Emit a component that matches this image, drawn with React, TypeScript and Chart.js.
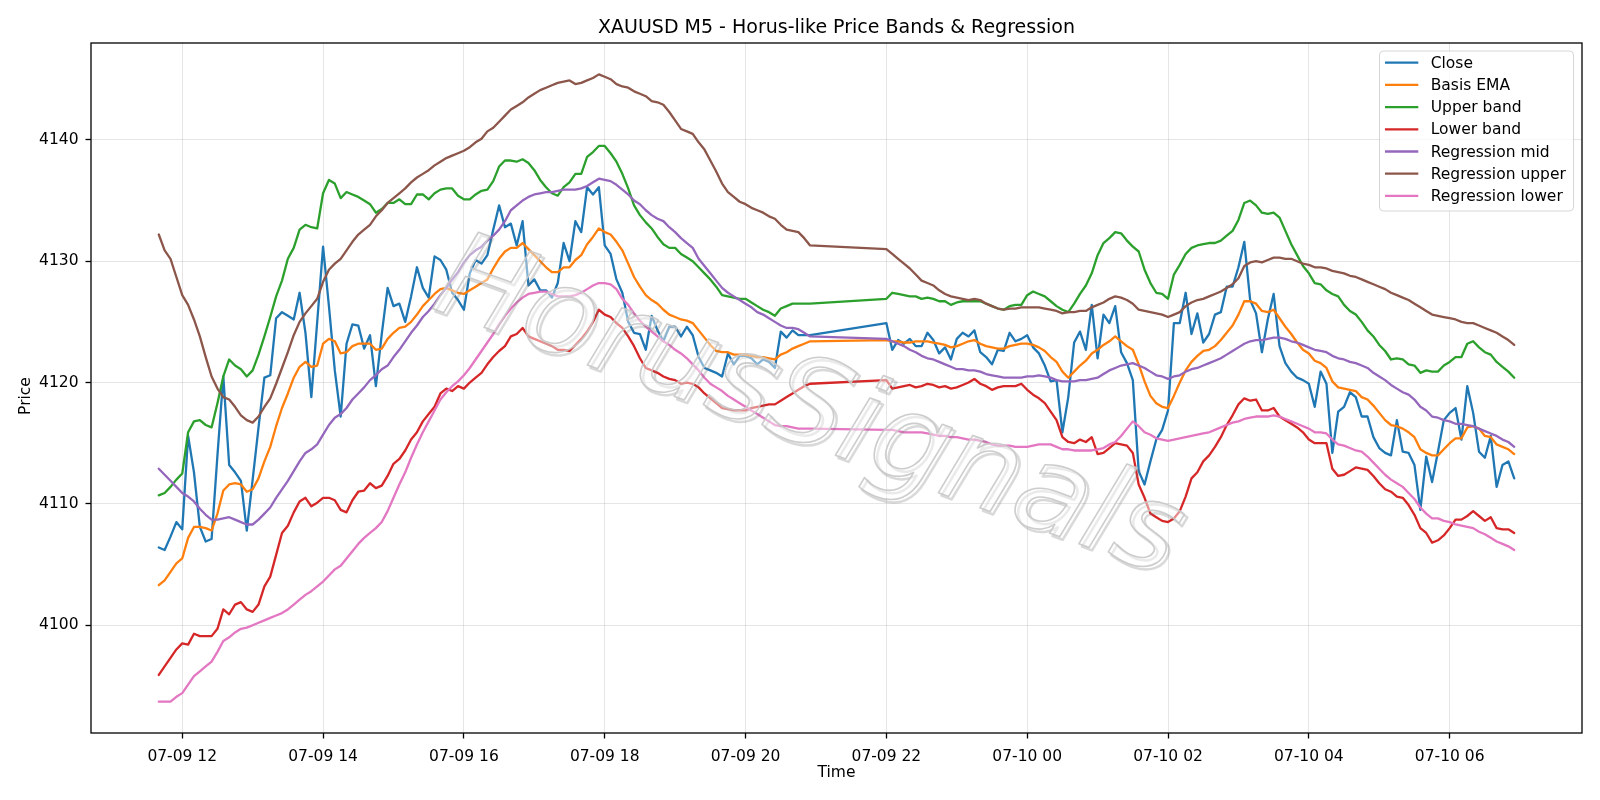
import React, { useEffect, useRef } from "react";
import { Chart, registerables } from "chart.js";

Chart.register(...registerables);

// ---- time axis (5-minute bars, two sessions) ----
const SEG1_START_HOUR = 11 + 40 / 60; // 07-09 11:40
const SEG1_COUNT = 112;
const SEG2_START_HOUR = 22; // 07-09 22:00
const SEG2_COUNT = 108;
const STEP_HOURS = 5 / 60;

const X_TICK_HOURS = [12, 14, 16, 18, 20, 22, 24, 26, 28, 30];
const X_TICK_LABELS = ["07-09 12", "07-09 14", "07-09 16", "07-09 18", "07-09 20", "07-09 22", "07-10 00", "07-10 02", "07-10 04", "07-10 06"];
const Y_TICKS = [4100, 4110, 4120, 4130, 4140];

const TITLE = "XAUUSD M5 - Horus-like Price Bands & Regression";
const X_TITLE = "Time";
const Y_TITLE = "Price";
const WATERMARK = "HorusSignals";

// ---- series ----
const CLOSE = [
  4106.4, 4106.2, 4107.3, 4108.5, 4107.9, 4115.6, 4112.6, 4108.1, 4106.9, 4107.1,
  4114.0, 4120.5, 4113.2, 4112.6, 4111.9, 4107.8, 4112.0, 4116.3, 4120.4, 4120.6,
  4125.3, 4125.8, 4125.5, 4125.2, 4127.4, 4124.1, 4118.8, 4125.0, 4131.2, 4126.3,
  4121.0, 4117.2, 4123.2, 4124.8, 4124.7, 4122.8, 4123.9, 4119.7, 4124.0, 4127.8,
  4126.3, 4126.5, 4125.0, 4127.1, 4129.5, 4127.8, 4127.0, 4130.4, 4130.1, 4129.3,
  4127.4, 4126.8, 4126.0, 4129.0, 4130.1, 4129.8, 4130.5, 4132.6, 4134.6, 4132.8,
  4133.1, 4131.3, 4133.3, 4128.0, 4128.5, 4127.6, 4127.6, 4127.0, 4128.2, 4131.5,
  4130.0, 4133.3, 4132.4, 4136.1, 4135.5, 4136.1, 4131.3, 4130.6, 4128.5, 4127.4,
  4125.0, 4124.1, 4124.0, 4122.7, 4125.5, 4124.3, 4123.4, 4124.6, 4124.6, 4123.8,
  4124.6, 4123.9, 4122.1, 4121.2, 4121.0, 4120.8, 4120.5, 4122.4, 4121.5, 4122.2,
  4122.2, 4122.0, 4121.5, 4121.9, 4121.7, 4121.2, 4124.2, 4123.7, 4124.3, 4123.9,
  4123.9, 4123.9,
  4124.9, 4122.7, 4123.5, 4123.2, 4123.6, 4123.0, 4123.0, 4124.1, 4123.5, 4122.4,
  4122.9, 4121.9, 4123.6, 4124.1, 4123.8, 4124.3, 4122.5, 4122.1, 4121.5, 4122.7,
  4122.6, 4124.1, 4123.4, 4123.6, 4123.9, 4122.9, 4122.4, 4121.4, 4120.1, 4120.2,
  4115.9, 4118.8, 4123.3, 4124.2, 4122.7, 4126.4, 4122.0, 4125.6, 4124.9, 4126.3,
  4122.5, 4121.6, 4120.2, 4112.7, 4111.6, 4113.5, 4115.3, 4116.1, 4117.7, 4124.9,
  4124.9, 4127.4, 4124.0, 4125.7, 4123.3, 4124.0, 4125.6, 4125.8, 4127.9, 4127.9,
  4129.5, 4131.6, 4126.8, 4125.7, 4122.5, 4125.2, 4127.3, 4123.0, 4121.6, 4120.9,
  4120.4, 4120.2, 4119.9, 4118.0, 4120.9, 4119.9, 4114.2, 4117.6, 4118.0, 4119.2,
  4118.8, 4117.2, 4117.2, 4115.5, 4114.6, 4114.2, 4114.0, 4116.9, 4114.3, 4114.2,
  4113.2, 4109.5, 4113.9, 4111.8, 4114.3, 4116.9, 4117.5, 4117.9, 4115.3, 4119.7,
  4117.5, 4114.3, 4113.8, 4115.6, 4111.4, 4113.2, 4113.5, 4112.1,
];

const BASIS_EMA = [
  4103.3, 4103.7, 4104.4, 4105.1, 4105.5, 4107.2, 4108.1, 4108.1, 4108.0, 4107.8,
  4109.2, 4111.1, 4111.6, 4111.7, 4111.6, 4111.0, 4111.2, 4112.1, 4113.5, 4114.7,
  4116.4, 4117.9, 4119.1, 4120.4, 4121.3, 4121.7, 4121.3, 4121.4, 4123.2, 4123.6,
  4123.4, 4122.4, 4122.5, 4123.0, 4123.2, 4123.2, 4123.2, 4122.7, 4122.8, 4123.6,
  4124.1, 4124.5, 4124.6, 4125.0, 4125.6, 4126.3, 4126.8, 4127.3, 4127.7, 4127.8,
  4127.6, 4127.4, 4127.3, 4127.6, 4127.9, 4128.2, 4128.5, 4129.4, 4130.2, 4130.8,
  4131.1, 4131.1, 4131.5, 4131.0, 4130.5, 4130.0, 4129.5, 4129.1, 4129.1, 4129.5,
  4129.5, 4130.1, 4130.5, 4131.4, 4132.0, 4132.7, 4132.4, 4132.2, 4131.6, 4130.9,
  4129.8, 4128.7, 4127.9, 4127.2, 4126.8, 4126.5, 4126.0, 4125.6, 4125.4, 4125.2,
  4125.1, 4124.9, 4124.3, 4123.7, 4123.1, 4122.6, 4122.5, 4122.5, 4122.3, 4122.3,
  4122.3, 4122.2, 4122.1, 4122.1, 4122.0, 4121.9, 4122.3, 4122.5, 4122.8, 4123.0,
  4123.2, 4123.4,
  4123.5, 4123.4, 4123.4, 4123.3, 4123.3, 4123.4, 4123.4, 4123.4, 4123.3, 4123.2,
  4123.1, 4122.9, 4123.0, 4123.2, 4123.4, 4123.5, 4123.2, 4123.0, 4122.9, 4122.8,
  4122.8, 4123.0, 4123.1, 4123.2, 4123.2, 4123.1, 4122.9, 4122.6, 4122.1, 4121.7,
  4120.9, 4120.4, 4120.9, 4121.4, 4121.8, 4122.4, 4122.7, 4123.1, 4123.4, 4123.8,
  4123.4, 4123.0, 4122.7, 4121.5, 4120.1, 4118.9, 4118.3, 4118.0, 4117.9, 4118.9,
  4120.0, 4121.0, 4121.7, 4122.2, 4122.6, 4122.7, 4123.0, 4123.5, 4124.1, 4124.7,
  4125.6, 4126.7, 4126.7, 4126.5, 4125.9, 4125.8, 4126.0, 4125.3, 4124.6, 4124.0,
  4123.3, 4122.7, 4122.4, 4121.8, 4121.6, 4121.2, 4120.1, 4119.6, 4119.5, 4119.4,
  4119.3, 4118.8, 4118.6, 4118.1, 4117.5, 4116.9, 4116.5, 4116.4, 4116.2, 4115.9,
  4115.5, 4114.5, 4114.2, 4114.0, 4114.0, 4114.5, 4115.0, 4115.4, 4115.4, 4116.3,
  4116.4, 4116.2, 4115.6, 4115.5, 4114.9, 4114.7, 4114.5, 4114.1,
];

const UPPER_BAND = [
  4110.7, 4110.9, 4111.4, 4112.0, 4112.5, 4115.9, 4116.8, 4116.9, 4116.5, 4116.3,
  4118.3, 4120.5, 4121.9, 4121.4, 4121.1, 4120.5, 4121.0, 4122.3, 4123.8, 4125.4,
  4127.1, 4128.4, 4130.2, 4131.1, 4132.6, 4133.0, 4132.8, 4132.7, 4135.6, 4136.7,
  4136.4, 4135.2, 4135.7, 4135.5, 4135.3, 4135.0, 4134.7, 4134.0, 4134.3, 4134.8,
  4134.8, 4135.1, 4134.7, 4134.7, 4135.5, 4135.5, 4135.1, 4135.6, 4135.9, 4136.0,
  4136.0, 4135.4, 4135.1, 4135.1, 4135.5, 4135.8, 4135.9, 4136.6, 4137.8, 4138.3,
  4138.3, 4138.2, 4138.4, 4138.1, 4137.5, 4136.7, 4136.1, 4135.6, 4135.4, 4136.1,
  4136.5, 4137.2, 4137.2, 4138.6, 4139.0, 4139.5, 4139.5, 4138.9, 4138.2, 4137.2,
  4136.0, 4134.6, 4133.8, 4133.2, 4132.7, 4132.0, 4131.4, 4131.1, 4131.1, 4130.6,
  4130.3, 4130.0, 4129.5, 4129.0, 4128.5, 4127.9, 4127.2, 4127.1, 4127.0, 4126.9,
  4126.9, 4126.6, 4126.3, 4126.0, 4125.8, 4125.5, 4126.1, 4126.3, 4126.5, 4126.5,
  4126.5, 4126.5,
  4126.9, 4127.4, 4127.3, 4127.2, 4127.1, 4127.1, 4126.9, 4127.0, 4126.9, 4126.7,
  4126.7, 4126.4, 4126.6, 4126.7, 4126.7, 4126.7, 4126.7, 4126.5, 4126.3, 4126.1,
  4126.0, 4126.3, 4126.4, 4126.4, 4127.2, 4127.5, 4127.3, 4127.1, 4126.7, 4126.3,
  4126.0, 4125.8, 4126.5, 4127.3, 4128.0, 4129.0, 4130.5, 4131.5, 4131.9, 4132.4,
  4132.3, 4131.7, 4131.2, 4130.8, 4129.3, 4128.2, 4127.4, 4127.3, 4126.9, 4128.9,
  4129.7, 4130.6, 4131.1, 4131.3, 4131.4, 4131.5, 4131.5, 4131.7, 4132.1, 4132.5,
  4133.4, 4134.8, 4135.0, 4134.6, 4134.0, 4133.9, 4134.0, 4133.6, 4132.5, 4131.4,
  4130.5, 4129.6, 4129.0, 4128.2, 4128.1, 4127.6, 4127.3, 4127.1, 4126.4, 4125.9,
  4125.6, 4125.0, 4124.3, 4123.8, 4123.1, 4122.6, 4121.9, 4122.0, 4121.9, 4121.5,
  4121.4, 4120.8, 4121.0, 4120.9, 4120.9, 4121.4, 4121.7, 4122.1, 4122.1, 4123.2,
  4123.4, 4122.9, 4122.5, 4122.3, 4121.7, 4121.3, 4120.9, 4120.4,
];

const LOWER_BAND = [
  4095.9, 4096.6, 4097.3, 4098.0, 4098.5, 4098.4, 4099.3, 4099.1, 4099.1, 4099.1,
  4099.7, 4101.3, 4100.9, 4101.7, 4101.9, 4101.3, 4101.1, 4101.7, 4103.2, 4104.0,
  4105.8, 4107.6, 4108.2, 4109.3, 4110.2, 4110.5, 4109.8, 4110.1, 4110.5, 4110.5,
  4110.3, 4109.5, 4109.3, 4110.3, 4111.0, 4111.1, 4111.7, 4111.3, 4111.5, 4112.3,
  4113.3, 4113.7, 4114.4, 4115.3, 4115.9, 4116.8, 4117.4, 4118.0, 4119.1, 4119.5,
  4119.3, 4119.7, 4119.5, 4120.0, 4120.4, 4120.8, 4121.5, 4122.1, 4122.6, 4123.0,
  4123.8, 4124.0, 4124.5, 4123.8, 4123.6, 4123.4, 4123.2, 4123.0, 4122.7, 4122.7,
  4122.6, 4123.1, 4123.6, 4124.2, 4125.0, 4126.0, 4125.6, 4125.4, 4124.9, 4124.5,
  4123.8, 4123.0, 4122.0, 4121.2, 4121.0, 4120.8, 4120.5, 4120.3, 4120.2, 4119.9,
  4120.0, 4119.9, 4119.6, 4119.1, 4118.7, 4118.3, 4117.9, 4117.8, 4117.7, 4117.7,
  4117.7, 4117.9, 4118.0, 4118.1, 4118.2, 4118.2, 4118.5, 4118.8, 4119.1, 4119.4,
  4119.7, 4119.9,
  4120.2, 4119.5, 4119.6, 4119.7, 4119.8, 4119.6, 4119.7, 4119.9, 4119.8, 4119.6,
  4119.7, 4119.5, 4119.6, 4119.8, 4120.0, 4120.3, 4119.9, 4119.7, 4119.4, 4119.6,
  4119.7, 4119.7, 4119.7, 4119.9, 4119.4, 4119.0, 4118.7, 4118.3, 4117.6, 4116.9,
  4115.5, 4115.1, 4115.0, 4115.3, 4115.1, 4115.5, 4114.1, 4114.2, 4114.6, 4115.0,
  4114.9, 4114.8, 4114.2, 4111.6, 4110.5, 4109.2, 4108.9, 4108.6, 4108.5, 4108.8,
  4109.4, 4110.6, 4112.1, 4112.6, 4113.5, 4114.0, 4114.7, 4115.5, 4116.5, 4117.3,
  4118.2, 4118.7, 4118.5, 4118.6, 4117.7, 4117.7, 4117.9, 4117.2, 4116.9, 4116.6,
  4116.3, 4115.9, 4115.3, 4115.0, 4115.0, 4115.0, 4112.9, 4112.3, 4112.4, 4112.7,
  4113.0, 4112.9, 4112.8, 4112.3, 4111.7, 4111.2, 4111.0, 4110.6, 4110.5, 4109.9,
  4109.1, 4108.0, 4107.6, 4106.8, 4107.0, 4107.4, 4108.0, 4108.7, 4108.7, 4109.0,
  4109.4, 4109.0, 4108.6, 4108.9, 4108.0, 4107.9, 4107.9, 4107.6,
];

const REG_MID = [
  4112.9, 4112.4, 4111.9, 4111.4, 4110.9, 4110.6, 4110.2, 4109.6, 4109.1, 4108.7,
  4108.7, 4108.8, 4108.9, 4108.7, 4108.5, 4108.3, 4108.3, 4108.7, 4109.2, 4109.7,
  4110.5, 4111.2, 4111.9, 4112.7, 4113.5, 4114.2, 4114.5, 4114.9, 4115.7, 4116.5,
  4117.1, 4117.4, 4117.9, 4118.6, 4119.1, 4119.6, 4120.2, 4120.6, 4121.1, 4121.4,
  4122.1, 4122.7, 4123.4, 4124.1, 4124.7, 4125.4, 4125.9, 4126.5, 4127.2, 4127.8,
  4128.5, 4129.1, 4129.9, 4130.5, 4130.9, 4131.2, 4131.7, 4132.1, 4132.6, 4133.3,
  4134.2, 4134.6, 4135.0, 4135.3, 4135.5, 4135.6, 4135.7, 4135.7, 4135.8, 4135.9,
  4135.9, 4135.9, 4136.0, 4136.2, 4136.5, 4136.8, 4136.7, 4136.6, 4136.3, 4135.9,
  4135.5, 4135.0, 4134.7, 4134.2, 4133.8, 4133.5, 4133.3, 4132.8, 4132.4, 4131.9,
  4131.5, 4131.1, 4130.2, 4129.6, 4129.0, 4128.4, 4127.8, 4127.4, 4127.1, 4126.8,
  4126.5, 4126.2, 4125.8, 4125.6, 4125.3, 4125.0, 4124.7, 4124.5, 4124.5, 4124.4,
  4124.1, 4123.8,
  4123.6, 4123.4, 4123.2, 4123.0, 4122.7, 4122.5, 4122.2, 4122.0, 4121.9, 4121.7,
  4121.5, 4121.3, 4121.1, 4121.1, 4121.0, 4121.0, 4120.9, 4120.7, 4120.6, 4120.5,
  4120.4, 4120.4, 4120.4, 4120.4, 4120.5, 4120.5, 4120.6, 4120.5, 4120.4, 4120.2,
  4120.1, 4120.1, 4120.1, 4120.2, 4120.2, 4120.3, 4120.4, 4120.7, 4121.0, 4121.2,
  4121.4, 4121.5, 4121.6, 4121.4, 4121.2, 4120.9, 4120.6, 4120.5, 4120.3, 4120.5,
  4120.6, 4120.9, 4121.1, 4121.2, 4121.4, 4121.6, 4121.8, 4122.0, 4122.3, 4122.6,
  4122.9, 4123.2, 4123.4, 4123.5, 4123.5, 4123.6, 4123.7, 4123.7, 4123.6, 4123.4,
  4123.3, 4123.1, 4122.9, 4122.7, 4122.6, 4122.5, 4122.2, 4122.0, 4121.9, 4121.7,
  4121.6, 4121.4, 4121.2, 4120.8, 4120.5, 4120.2, 4119.8, 4119.5, 4119.2, 4119.0,
  4118.6, 4118.0, 4117.7, 4117.2, 4117.1, 4116.9, 4116.8, 4116.6, 4116.6, 4116.5,
  4116.4, 4116.2, 4116.0, 4115.8, 4115.6, 4115.3, 4115.1, 4114.7,
];

const REG_UPPER = [
  4132.2, 4130.9, 4130.2, 4128.7, 4127.2, 4126.4, 4125.2, 4123.8, 4122.1, 4120.5,
  4119.5, 4118.8, 4118.6, 4118.0, 4117.3, 4116.9, 4116.7, 4117.2, 4118.0, 4118.7,
  4119.9, 4121.2, 4122.5, 4123.9, 4125.0, 4125.7, 4126.3, 4126.9, 4128.3, 4129.3,
  4129.8, 4130.2, 4130.9, 4131.6, 4132.2, 4132.6, 4133.0, 4133.7, 4134.2, 4134.8,
  4135.2, 4135.6, 4136.0, 4136.5, 4136.9, 4137.2, 4137.5, 4137.9, 4138.2, 4138.5,
  4138.7, 4138.9, 4139.1, 4139.4, 4139.8, 4140.1, 4140.7, 4141.0, 4141.5, 4142.0,
  4142.5, 4142.8, 4143.1, 4143.5, 4143.8, 4144.1, 4144.3, 4144.5, 4144.7, 4144.8,
  4144.9, 4144.6, 4144.7, 4144.9, 4145.1, 4145.4, 4145.2, 4145.0, 4144.6, 4144.4,
  4144.3, 4144.0, 4143.8, 4143.6, 4143.2, 4143.1, 4142.9, 4142.3, 4141.6, 4140.9,
  4140.7, 4140.5, 4139.8, 4139.2, 4138.3, 4137.4, 4136.4, 4135.7, 4135.3, 4134.9,
  4134.7, 4134.4, 4134.2, 4134.0, 4133.7, 4133.5, 4133.0, 4132.6, 4132.5, 4132.4,
  4131.9, 4131.3,
  4131.0, 4130.6, 4130.2, 4129.8, 4129.4, 4128.9, 4128.4, 4128.2, 4128.0, 4127.6,
  4127.3, 4127.1, 4127.0, 4126.9, 4126.8, 4126.9, 4126.8, 4126.5, 4126.3, 4126.1,
  4126.0, 4126.1, 4126.1, 4126.2, 4126.2, 4126.2, 4126.2, 4126.1, 4126.0, 4125.9,
  4125.7, 4125.8, 4125.8, 4125.9, 4125.9, 4126.2, 4126.4, 4126.6, 4126.9, 4127.1,
  4127.0, 4126.8, 4126.5, 4126.0, 4125.9, 4125.8, 4125.7, 4125.6, 4125.4, 4125.6,
  4125.8, 4126.3, 4126.6, 4126.8, 4126.9, 4127.1, 4127.3, 4127.5, 4127.8, 4128.1,
  4128.6, 4129.6, 4129.9, 4130.0, 4129.9, 4130.1, 4130.3, 4130.3, 4130.2, 4130.2,
  4130.0, 4129.8, 4129.7, 4129.5, 4129.5, 4129.4, 4129.2, 4129.1, 4129.0, 4128.8,
  4128.7, 4128.5, 4128.3, 4128.1, 4127.9, 4127.7, 4127.4, 4127.2, 4127.0, 4126.8,
  4126.5, 4126.2, 4125.9, 4125.6, 4125.5, 4125.4, 4125.3, 4125.2, 4125.0, 4124.9,
  4124.9, 4124.7, 4124.5, 4124.3, 4124.1, 4123.8, 4123.5, 4123.1,
];

const REG_LOWER = [
  4093.7, 4093.7, 4093.7, 4094.1, 4094.4, 4095.1, 4095.8, 4096.2, 4096.6, 4097.0,
  4097.8, 4098.7, 4099.0, 4099.4, 4099.7, 4099.8, 4100.0, 4100.2, 4100.4, 4100.6,
  4100.8, 4101.0, 4101.3, 4101.7, 4102.1, 4102.5, 4102.8, 4103.2, 4103.6, 4104.1,
  4104.6, 4104.9, 4105.5, 4106.1, 4106.7, 4107.2, 4107.6, 4108.0, 4108.5, 4109.4,
  4110.5, 4111.6, 4112.6, 4113.8, 4114.9, 4115.9, 4116.8, 4117.7, 4118.6, 4119.2,
  4119.7, 4120.1, 4120.6, 4121.2, 4121.9, 4122.6, 4123.3, 4124.0, 4124.8, 4125.5,
  4126.1, 4126.6, 4127.0, 4127.3, 4127.4, 4127.5, 4127.5, 4127.3, 4127.1, 4127.1,
  4127.1, 4127.2, 4127.4, 4127.7, 4128.0, 4128.2, 4128.2, 4128.1, 4127.7, 4126.9,
  4126.4, 4125.7, 4125.1, 4124.6, 4124.2, 4123.8, 4123.4, 4123.1, 4122.7, 4122.4,
  4122.0, 4121.5, 4121.0, 4120.4, 4119.9, 4119.6, 4119.3, 4118.9, 4118.6, 4118.3,
  4118.0, 4117.7, 4117.4, 4117.1, 4116.8, 4116.5, 4116.4, 4116.4, 4116.3, 4116.2,
  4116.2, 4116.2,
  4116.1, 4116.1, 4116.0, 4115.9, 4115.9, 4115.9, 4115.9, 4115.8, 4115.7, 4115.6,
  4115.6, 4115.5, 4115.5, 4115.4, 4115.3, 4115.3, 4115.2, 4115.1, 4114.9, 4114.8,
  4114.8, 4114.8, 4114.7, 4114.7, 4114.7, 4114.8, 4114.9, 4114.9, 4114.9, 4114.7,
  4114.5, 4114.5, 4114.4, 4114.4, 4114.4, 4114.4, 4114.5, 4114.6, 4114.9, 4115.1,
  4115.6, 4116.2, 4116.8, 4116.4, 4115.9, 4115.7, 4115.4, 4115.3, 4115.2, 4115.3,
  4115.4, 4115.5, 4115.6, 4115.7, 4115.8, 4115.9, 4116.1, 4116.3, 4116.5, 4116.7,
  4116.8, 4117.0, 4117.1, 4117.2, 4117.2, 4117.2, 4117.3, 4117.2, 4117.0, 4116.8,
  4116.6, 4116.4, 4116.2, 4115.9, 4115.9, 4115.8, 4115.3, 4114.9, 4114.8, 4114.6,
  4114.4, 4114.3, 4113.9, 4113.4, 4112.9, 4112.4, 4112.0, 4111.7, 4111.4, 4110.9,
  4110.4, 4109.7, 4109.2, 4108.8, 4108.8, 4108.6, 4108.5, 4108.3, 4108.2, 4108.1,
  4108.0, 4107.7, 4107.5, 4107.2, 4106.9, 4106.7, 4106.5, 4106.2,
];

const SERIES_LABELS = ["Close", "Basis EMA", "Upper band", "Lower band", "Regression mid", "Regression upper", "Regression lower"];
const SERIES_COLORS = ["#1f77b4", "#ff7f0e", "#2ca02c", "#d62728", "#9467bd", "#8c564b", "#e377c2"];
const SERIES_VALUES = [CLOSE, BASIS_EMA, UPPER_BAND, LOWER_BAND, REG_MID, REG_UPPER, REG_LOWER];

const FONT = "'DejaVu Sans', 'Noto Sans', sans-serif";

function buildTimes(): number[] {
  const t: number[] = [];
  for (let i = 0; i < SEG1_COUNT; i++) t.push(SEG1_START_HOUR + i * STEP_HOURS);
  for (let j = 0; j < SEG2_COUNT; j++) t.push(SEG2_START_HOUR + j * STEP_HOURS);
  return t;
}

export default function App() {
  const ref = useRef<HTMLCanvasElement | null>(null);

  useEffect(() => {
    const canvas = ref.current;
    if (!canvas) return;
    const xs = buildTimes();
    const xMinD = Math.min(...xs);
    const xMaxD = Math.max(...xs);
    const xPad = (xMaxD - xMinD) * 0.05;
    const all = SERIES_VALUES.flat();
    const yMinD = Math.min(...all);
    const yMaxD = Math.max(...all);
    const yPad = (yMaxD - yMinD) * 0.05;

    const LW = 2.3;

    const datasets = SERIES_VALUES.map((vals, k) => ({
      label: SERIES_LABELS[k],
      data: vals.map((y, i) => ({ x: xs[i], y })),
      borderColor: SERIES_COLORS[k],
      backgroundColor: SERIES_COLORS[k],
      borderWidth: LW,
      pointRadius: 0,
      pointHoverRadius: 0,
      tension: 0,
      fill: false,
      borderJoinStyle: "round" as const,
      borderCapStyle: "round" as const,
      order: SERIES_VALUES.length - k,
    }));

    const decor = {
      id: "decor",
      afterDatasetsDraw(chart: any) {
        const ctx: CanvasRenderingContext2D = chart.ctx;
        const a = chart.chartArea;
        // spines
        ctx.save();
        ctx.strokeStyle = "#000";
        ctx.lineWidth = 1.3;
        ctx.strokeRect(a.left, a.top, a.right - a.left, a.bottom - a.top);
        ctx.restore();

        // watermark
        const cx = 808, cy = 412, ang = (20 * Math.PI) / 180;
        ctx.save();
        ctx.font = `italic 120px ${FONT}`;
        ctx.textAlign = "center";
        ctx.textBaseline = "middle";
        ctx.lineJoin = "round";
        // soft shadow
        ctx.save();
        ctx.translate(cx + 3, cy + 3);
        ctx.rotate(ang);
        ctx.strokeStyle = "rgba(120,120,120,0.28)";
        ctx.lineWidth = 2.5;
        ctx.strokeText(WATERMARK, 0, 0);
        ctx.restore();
        ctx.translate(cx, cy);
        ctx.rotate(ang);
        ctx.fillStyle = "rgba(255,255,255,0.45)";
        ctx.fillText(WATERMARK, 0, 0);
        ctx.strokeStyle = "rgba(200,200,200,0.9)";
        ctx.lineWidth = 1.6;
        ctx.strokeText(WATERMARK, 0, 0);
        ctx.restore();

        // legend
        const lx = 1379.5, ly = 51, lw = 194, lh = 160, r = 4;
        ctx.save();
        ctx.beginPath();
        ctx.moveTo(lx + r, ly);
        ctx.lineTo(lx + lw - r, ly);
        ctx.quadraticCurveTo(lx + lw, ly, lx + lw, ly + r);
        ctx.lineTo(lx + lw, ly + lh - r);
        ctx.quadraticCurveTo(lx + lw, ly + lh, lx + lw - r, ly + lh);
        ctx.lineTo(lx + r, ly + lh);
        ctx.quadraticCurveTo(lx, ly + lh, lx, ly + lh - r);
        ctx.lineTo(lx, ly + r);
        ctx.quadraticCurveTo(lx, ly, lx + r, ly);
        ctx.closePath();
        ctx.fillStyle = "rgba(255,255,255,0.8)";
        ctx.fill();
        ctx.strokeStyle = "rgba(204,204,204,0.8)";
        ctx.lineWidth = 1;
        ctx.stroke();
        ctx.font = `15.5px ${FONT}`;
        ctx.textAlign = "left";
        ctx.textBaseline = "middle";
        for (let k = 0; k < SERIES_LABELS.length; k++) {
          const ry = 62.7 + k * 22.2;
          ctx.strokeStyle = SERIES_COLORS[k];
          ctx.lineWidth = LW;
          ctx.beginPath();
          ctx.moveTo(1385, ry);
          ctx.lineTo(1418.3, ry);
          ctx.stroke();
          ctx.fillStyle = "#000";
          ctx.fillText(SERIES_LABELS[k], 1430.7, ry + 1);
        }
        ctx.restore();
      },
      afterDraw(chart: any) {
        const ctx: CanvasRenderingContext2D = chart.ctx;
        const a = chart.chartArea;
        const mid = (a.left + a.right) / 2;
        ctx.save();
        ctx.fillStyle = "#000";
        ctx.textAlign = "center";
        ctx.font = `19px ${FONT}`;
        ctx.textBaseline = "alphabetic";
        ctx.fillText(TITLE, mid, 33);
        ctx.font = `15.5px ${FONT}`;
        ctx.textBaseline = "middle";
        ctx.fillText(X_TITLE, mid, 773);
        ctx.translate(26, 396);
        ctx.rotate(-Math.PI / 2);
        ctx.fillText(Y_TITLE, 0, 0);
        ctx.restore();
      },
    };

    const gridColor = "rgba(176,176,176,0.33)";

    const chart = new Chart(canvas, {
      type: "line",
      data: { datasets: datasets as any },
      options: {
        responsive: false,
        animation: false,
        devicePixelRatio: 1,
        events: [],
        layout: { padding: { left: 0, top: 43, right: 18, bottom: 0 } },
        plugins: {
          legend: { display: false },
          title: { display: false },
          tooltip: { enabled: false },
        },
        scales: {
          x: {
            type: "linear",
            min: xMinD - xPad,
            max: xMaxD + xPad,
            afterFit: (s: any) => {
              s.height = 67;
            },
            afterBuildTicks: (s: any) => {
              s.ticks = X_TICK_HOURS.map((v) => ({ value: v }));
            },
            ticks: {
              autoSkip: false,
              maxRotation: 0,
              padding: 9,
              color: "#000",
              font: { family: FONT, size: 15.5 },
              callback: (v: any) => {
                const idx = X_TICK_HOURS.indexOf(Number(v));
                return idx >= 0 ? X_TICK_LABELS[idx] : "";
              },
            },
            grid: { color: gridColor, lineWidth: 1, tickColor: "#000", tickLength: 5.5, tickWidth: 1.3 },
            border: { display: false },
          },
          y: {
            type: "linear",
            min: yMinD - yPad,
            max: yMaxD + yPad,
            afterFit: (s: any) => {
              s.width = 91;
            },
            afterBuildTicks: (s: any) => {
              s.ticks = Y_TICKS.map((v) => ({ value: v }));
            },
            ticks: {
              padding: 7,
              color: "#000",
              font: { family: FONT, size: 15.5 },
              callback: (v: any) => String(v),
            },
            grid: { color: gridColor, lineWidth: 1, tickColor: "#000", tickLength: 5.5, tickWidth: 1.3 },
            border: { display: false },
          },
        },
      },
      plugins: [decor],
    });

    return () => chart.destroy();
  }, []);

  return (
    <div style={{ position: "fixed", left: 0, top: 0, width: 1600, height: 800, background: "#fff" }}>
      <canvas ref={ref} width={1600} height={800} style={{ display: "block", width: 1600, height: 800 }} />
    </div>
  );
}
